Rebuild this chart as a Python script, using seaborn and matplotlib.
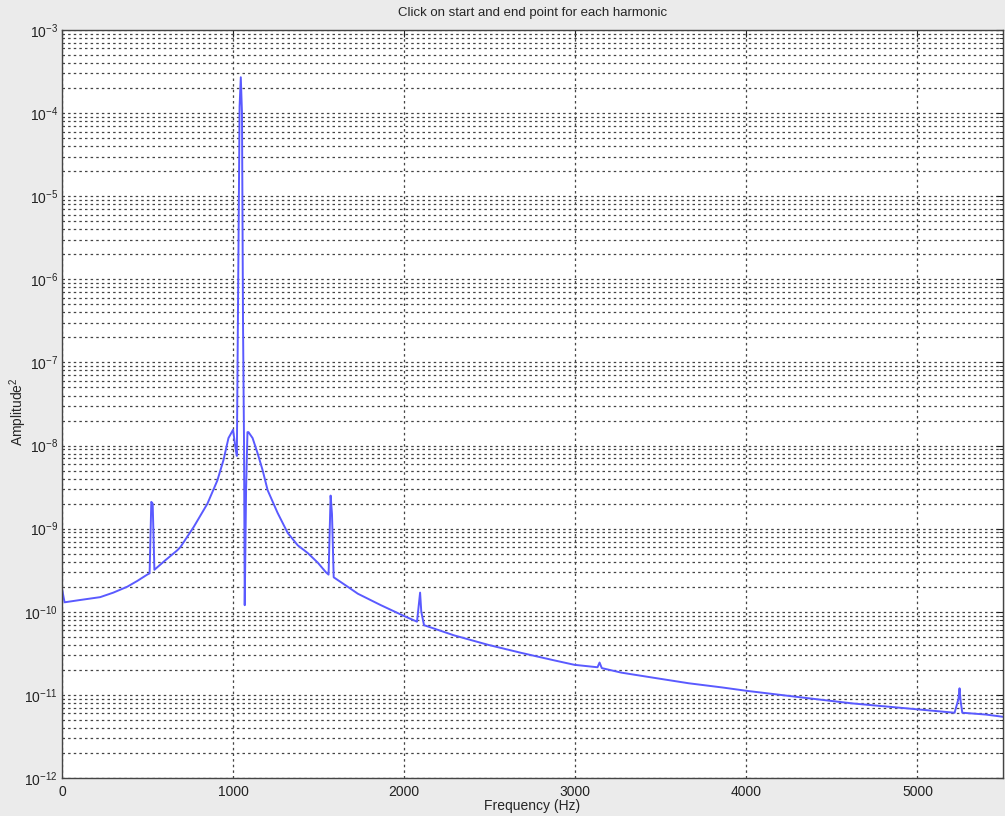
import numpy as np
import pandas as pd
import matplotlib
matplotlib.use("Agg")
import matplotlib.pyplot as plt
import matplotlib.ticker as mticker
import seaborn as sns

# ── Data ──────────────────────────────────────────────────────────
freq_hz = [
    0, 15, 100, 223, 300, 381, 440, 498, 512, 522, 530, 540,
    600, 674, 692, 770, 850, 908, 944, 973, 1000, 1012, 1022,
    1030, 1038, 1045, 1052, 1058, 1064, 1068, 1076, 1084, 1090,
    1114, 1143, 1172, 1202, 1260, 1319, 1378, 1436, 1495, 1542, 1558, 1570, 1578, 1588,
    1670, 1729, 1864, 1999, 2075, 2093, 2100, 2116,
    2292, 2491, 2685, 2878, 2995, 3130, 3142, 3155, 3271, 3464, 3663, 3857, 4000,
    4326, 4619, 5000, 5217, 5240, 5246, 5252, 5262, 5400, 5515,
]
amplitude_sq = [
    1.9e-10, 1.3e-10, 1.38e-10, 1.5e-10, 1.7e-10, 2.0e-10, 2.35e-10, 2.8e-10, 2.9e-10, 2.1e-9, 2.0e-9, 3.2e-10,
    4.1e-10, 5.5e-10, 6.0e-10, 1.05e-9, 2.0e-9, 3.8e-9, 6.7e-9, 1.23e-8, 1.55e-8, 1.0e-8, 7.5e-9,
    1.0e-6, 1.2e-4, 2.7e-4, 1.0e-4, 3.0e-7, 1.0e-8, 1.2e-10, 3.0e-9, 1.45e-8, 1.45e-8,
    1.23e-8, 8.1e-9, 5.1e-9, 2.9e-9, 1.55e-9, 8.9e-10, 6.3e-10, 5.1e-10, 3.9e-10, 3.0e-10, 2.8e-10, 2.5e-9, 1.5e-9, 2.6e-10,
    2.0e-10, 1.65e-10, 1.2e-10, 8.9e-11, 7.6e-11, 1.7e-10, 1.0e-10, 6.9e-11,
    5.2e-11, 4.0e-11, 3.2e-11, 2.6e-11, 2.3e-11, 2.15e-11, 2.45e-11, 2.1e-11, 1.85e-11, 1.6e-11, 1.38e-11, 1.23e-11, 1.12e-11,
    9.3e-12, 7.9e-12, 6.7e-12, 6.1e-12, 9.0e-12, 1.2e-11, 8.5e-12, 6.1e-12, 5.8e-12, 5.4e-12,
]
x_ticks = [0, 1000, 2000, 3000, 4000, 5000]
y_decades = list(range(-12, -2))

TITLE = "Click on start and end point for each harmonic"


def plot_spectrum(save_path):
    df = pd.DataFrame({"freq": freq_hz, "amp": amplitude_sq})

    sns.set_style("white")
    plt.rcParams["font.family"] = ["Liberation Sans", "DejaVu Sans"]

    fig = plt.figure(figsize=(10.05, 8.16), dpi=100, facecolor="#ebebeb")
    ax = fig.add_axes([62 / 1005, 1 - 778 / 816, 941 / 1005, 748 / 816])
    ax.set_facecolor("white")

    sns.lineplot(data=df, x="freq", y="amp", ax=ax,
                 color="#5a5aff", linewidth=1.4, estimator=None)

    ax.set_yscale("log")
    ax.set_xlim(0, 5500)
    ax.set_ylim(1e-12, 1e-3)

    ax.set_xticks(x_ticks)
    ax.set_xticklabels([str(t) for t in x_ticks])
    ax.yaxis.set_major_locator(mticker.FixedLocator([10.0 ** d for d in y_decades]))
    ax.yaxis.set_major_formatter(mticker.FixedFormatter(
        [r"$\mathregular{10^{%d}}$" % d for d in y_decades]))
    ax.yaxis.set_minor_locator(mticker.LogLocator(base=10, subs=np.arange(2, 10), numticks=20))
    ax.yaxis.set_minor_formatter(mticker.NullFormatter())

    ax.grid(True, which="major", axis="both", color="#444444",
            linestyle=(0, (2, 2.5)), linewidth=0.9)
    ax.grid(True, which="minor", axis="y", color="#444444",
            linestyle=(0, (2, 2.5)), linewidth=0.9)

    ax.tick_params(axis="both", which="both", direction="in",
                   top=True, right=True, labelsize=10, colors="#222222")
    ax.tick_params(axis="both", which="major", length=5)
    ax.tick_params(axis="y", which="minor", length=3)
    ax.tick_params(axis="y", which="major", pad=3)
    ax.tick_params(axis="x", pad=5)

    for spine in ax.spines.values():
        spine.set_color("#444444")
        spine.set_linewidth(1.0)

    ax.set_xlabel("Frequency (Hz)", fontsize=10)
    ax.xaxis.set_label_coords(0.5, -21 / 748)
    ax.set_ylabel(r"Amplitude$\mathregular{^2}$", fontsize=10)
    ax.yaxis.set_label_coords(-33 / 941, 0.49)
    ax.set_title(TITLE, fontsize=9.5, pad=10)

    fig.savefig(save_path, dpi=100, facecolor=fig.get_facecolor())
    plt.close(fig)


if __name__ == "__main__":
    plot_spectrum("out.png")
